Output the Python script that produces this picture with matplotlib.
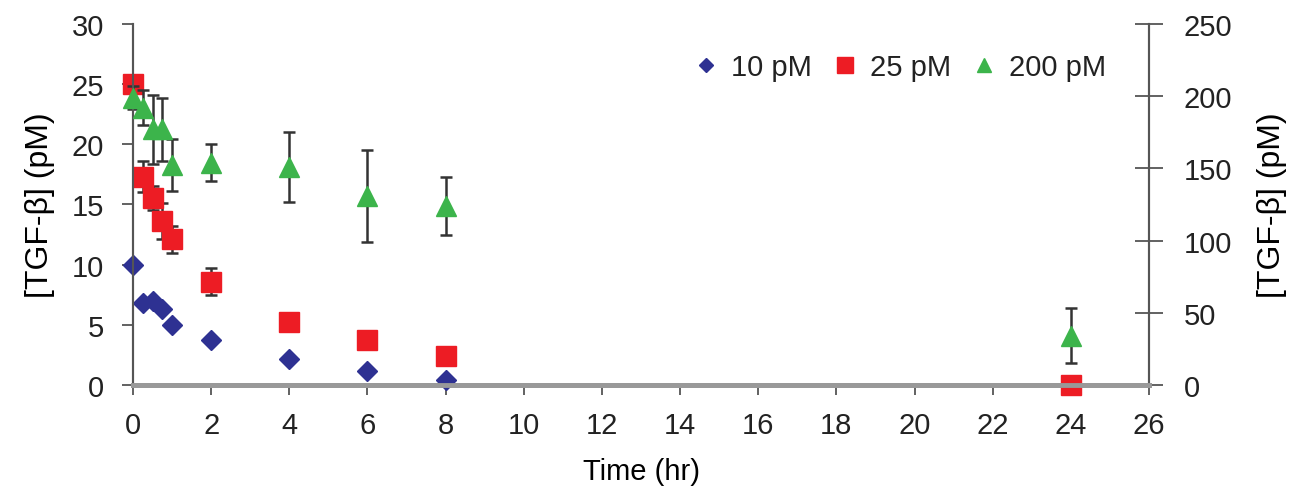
import matplotlib
matplotlib.use('Agg')
import matplotlib.pyplot as plt

plt.rcParams['font.family'] = ['Liberation Sans', 'DejaVu Sans']

# -- DATA --
time_hr = [0, 0.25, 0.5, 0.75, 1, 2, 4, 6, 8, 24]

tgf_10 = [10.0, 6.8, 7.0, 6.3, 5.0, 3.7, 2.2, 1.2, 0.4, 0.0]

tgf_25 = [25.0, 17.3, 15.5, 13.6, 12.1, 8.6, 5.2, 3.7, 2.4, 0.0]
err_25 = [0.5, 1.3, 1.0, 1.5, 1.1, 1.1, 0.3, 0.3, 0.3, 0.0]

tgf_200 = [199, 192, 177, 177, 152, 154, 151, 131, 124, 34]
err_200 = [8, 12, 24, 22, 18, 13, 24, 32, 20, 19]

x_ticks = list(range(0, 27, 2))
left_ticks = [0, 5, 10, 15, 20, 25, 30]
right_ticks = [0, 50, 100, 150, 200, 250]

# -- CHART --
fig = plt.figure(figsize=(12.95, 4.89), dpi=100)
ax = fig.add_axes([0.1027, 0.2106, 0.7846, 0.7384])
ax2 = ax.twinx()

err_style = dict(fmt='none', ecolor='#333333', elinewidth=1.8,
                 capsize=4.5, capthick=1.8, zorder=2, clip_on=False)
ax.errorbar(time_hr, tgf_25, yerr=err_25, **err_style)
ax2.errorbar(time_hr, tgf_200, yerr=err_200, **err_style)

ax.plot(time_hr, tgf_10, linestyle='none', marker='D', markersize=10,
        color='#2E3192', label='10 pM', zorder=3, clip_on=False)
ax.plot(time_hr, tgf_25, linestyle='none', marker='s', markersize=15,
        color='#ED1C24', label='25 pM', zorder=4, clip_on=False)
ax2.plot(time_hr, tgf_200, linestyle='none', marker='^', markersize=14,
         color='#3CB44B', label='200 pM', zorder=3, clip_on=False)

ax.set_xlim(0, 26)
ax.set_ylim(0, 30)
ax2.set_ylim(0, 250)
ax.set_xticks(x_ticks)
ax.set_yticks(left_ticks)
ax2.set_yticks(right_ticks)

ax.set_xlabel('Time (hr)', fontsize=21, labelpad=13)
ax.set_ylabel('[TGF-β] (pM)', fontsize=23, labelpad=12)
ax2.set_ylabel('[TGF-β] (pM)', fontsize=23, labelpad=18)

for a in (ax, ax2):
    a.spines['top'].set_visible(False)
    a.spines['bottom'].set_color('#999999')
    a.spines['bottom'].set_linewidth(3.5)
    a.spines['left'].set_color('#555555')
    a.spines['right'].set_color('#555555')
    a.spines['left'].set_linewidth(1.5)
    a.spines['right'].set_linewidth(1.5)
    a.patch.set_visible(False)

ax.tick_params(axis='x', direction='out', length=7, width=1.3, color='#555555',
               labelsize=21, pad=12, labelcolor='#222222')
ax.tick_params(axis='y', direction='out', length=8, width=1.3, color='#555555',
               labelsize=21, pad=13, labelcolor='#222222')
ax2.tick_params(axis='y', direction='inout', length=20, width=1.3, color='#555555',
                labelsize=21, pad=15, labelcolor='#222222')

h1, l1 = ax.get_legend_handles_labels()
h2, l2 = ax2.get_legend_handles_labels()
ax2.legend(h1 + h2, l1 + l2, loc='upper right', bbox_to_anchor=(0.958, 0.92),
           ncol=3, frameon=False, fontsize=21, handletextpad=0.4,
           columnspacing=0.7, markerscale=0.75, handlelength=0.9,
           borderpad=0, borderaxespad=0, labelcolor='#222222')

plt.savefig('out.png', dpi=100)
plt.close(fig)
